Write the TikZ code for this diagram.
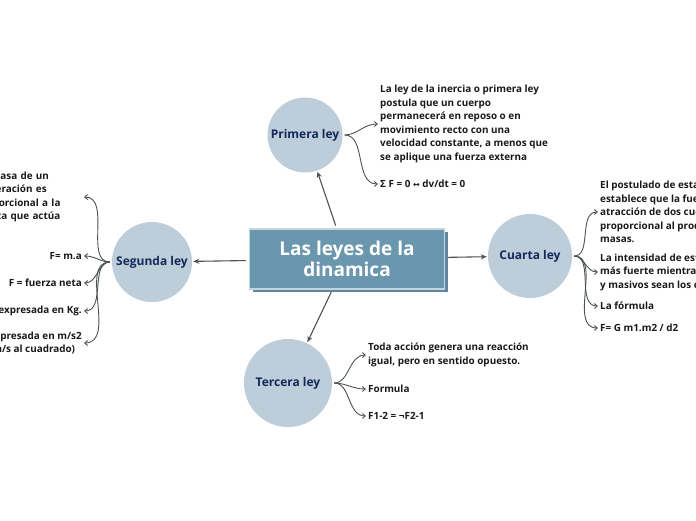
\documentclass[tikz,border=0pt]{standalone}
\usepackage{fontspec}
\setmainfont{Open Sans}
\newfontfamily\symfont{DejaVu Sans}
\usetikzlibrary{arrows.meta,shadows}
\definecolor{boxblue}{HTML}{6A97AE}
\definecolor{boxshade}{HTML}{5E889E}
\definecolor{lawfill}{HTML}{BDCDD9}
\definecolor{lawtext}{HTML}{14285A}
\definecolor{wire}{HTML}{4C5252}

\begin{document}
\begin{tikzpicture}[x=1pt,y=-1pt,
    law/.style={circle, fill=lawfill, inner sep=0pt, text=lawtext,
      font=\fontsize{12}{14}\selectfont\bfseries},
    leaf/.style={inner sep=2pt, text=black!90, align=left,
      font=\fontsize{9.9}{13.6}\selectfont\bfseries},
    link/.style={wire, line width=1.1pt, -{Stealth[length=6pt,width=5pt]},
      shorten <=3pt, shorten >=1pt},
    twig/.style={wire, line width=0.9pt, -{Straight Barb[length=3pt,width=5pt]},
      shorten <=2pt}]
  \useasboundingbox (0,0) rectangle (696,520);
  \clip (0,0) rectangle (696,520);

  % centre
  \node (root) at (347,259) [rectangle, fill=boxblue, draw=white!60!boxblue,
    line width=1.2pt, minimum width=195pt, minimum height=60pt,
    drop shadow={shadow xshift=3pt, shadow yshift=-3pt, fill=boxshade, opacity=1},
    text=white, align=center, font=\fontsize{19}{21.5}\selectfont\bfseries]
    {Las leyes de la\\dinamica};

  % the four laws
  \node[law, minimum size=75pt] (primera) at (305,135) {Primera ley};
  \node[law, minimum size=80pt] (segunda) at (152,262) {Segunda ley};
  \node[law, minimum size=84pt] (cuarta) at (530,256) {Cuarta ley};
  \node[law, minimum size=88pt] (tercera) at (288,383) {Tercera ley};

  \draw[link] (root) -- (primera);
  \draw[link] (root) -- (segunda);
  \draw[link] (root) -- (cuarta);
  \draw[link] (root) -- (tercera);

  % primera ley
  \node[leaf, anchor=west] (p1) at (378,124)
    {La ley de la inercia o primera ley\\postula que un cuerpo\\permanecerá en reposo o en\\movimiento recto con una\\velocidad constante, a menos que\\se aplique una fuerza externa};
  \node[leaf, anchor=west] (p2) at (378,184)
    {Σ F = 0 {\symfont\fontsize{8}{9}\selectfont↔} dv/dt = 0};
  \foreach \n in {p1,p2}
    \draw[twig] (primera.east) to[out=0,in=180] (\n.west);

  % segunda ley
  \node[leaf, anchor=east, text width=106pt] (s1) at (84,197)
    {La masa de un\\aceleración es\\proporcional a la\\fuerza que actúa};
  \node[leaf, anchor=east] (s2) at (84,256) {F= m.a};
  \node[leaf, anchor=east] (s3) at (84,283) {F = fuerza neta};
  \node[leaf, anchor=east] (s4) at (84,311) {expresada en Kg.};
  \node[leaf, anchor=east] (s5) at (84,343) {expresada en m/s2\\(m/s al cuadrado)};
  \foreach \n in {s1,s2,s3,s4,s5}
    \draw[twig] (segunda.west) to[out=180,in=0] (\n.east);

  % cuarta ley
  \node[leaf, anchor=west] (c1) at (598,212)
    {El postulado de esta ley\\establece que la fuerza de\\atracción de dos cuerpos es\\proporcional al producto de sus\\masas.};
  \node[leaf, anchor=west] (c2) at (598,272)
    {La intensidad de esta fuerza es\\más fuerte mientras más cercanos\\y masivos sean los cuerpos.};
  \node[leaf, anchor=west] (c3) at (598,306) {La fórmula};
  \node[leaf, anchor=west] (c4) at (598,328) {F= G m1.m2 / d2};
  \foreach \n in {c1,c2,c3,c4}
    \draw[twig] (cuarta.east) to[out=0,in=180] (\n.west);

  % tercera ley
  \node[leaf, anchor=west] (t1) at (366,355)
    {Toda acción genera una reacción\\igual, pero en sentido opuesto.};
  \node[leaf, anchor=west] (t2) at (366,389) {Formula};
  \node[leaf, anchor=west] (t3) at (366,416) {F1-2 = ¬F2-1};
  \foreach \n in {t1,t2,t3}
    \draw[twig] (tercera.east) to[out=0,in=180] (\n.west);
\end{tikzpicture}
\end{document}
